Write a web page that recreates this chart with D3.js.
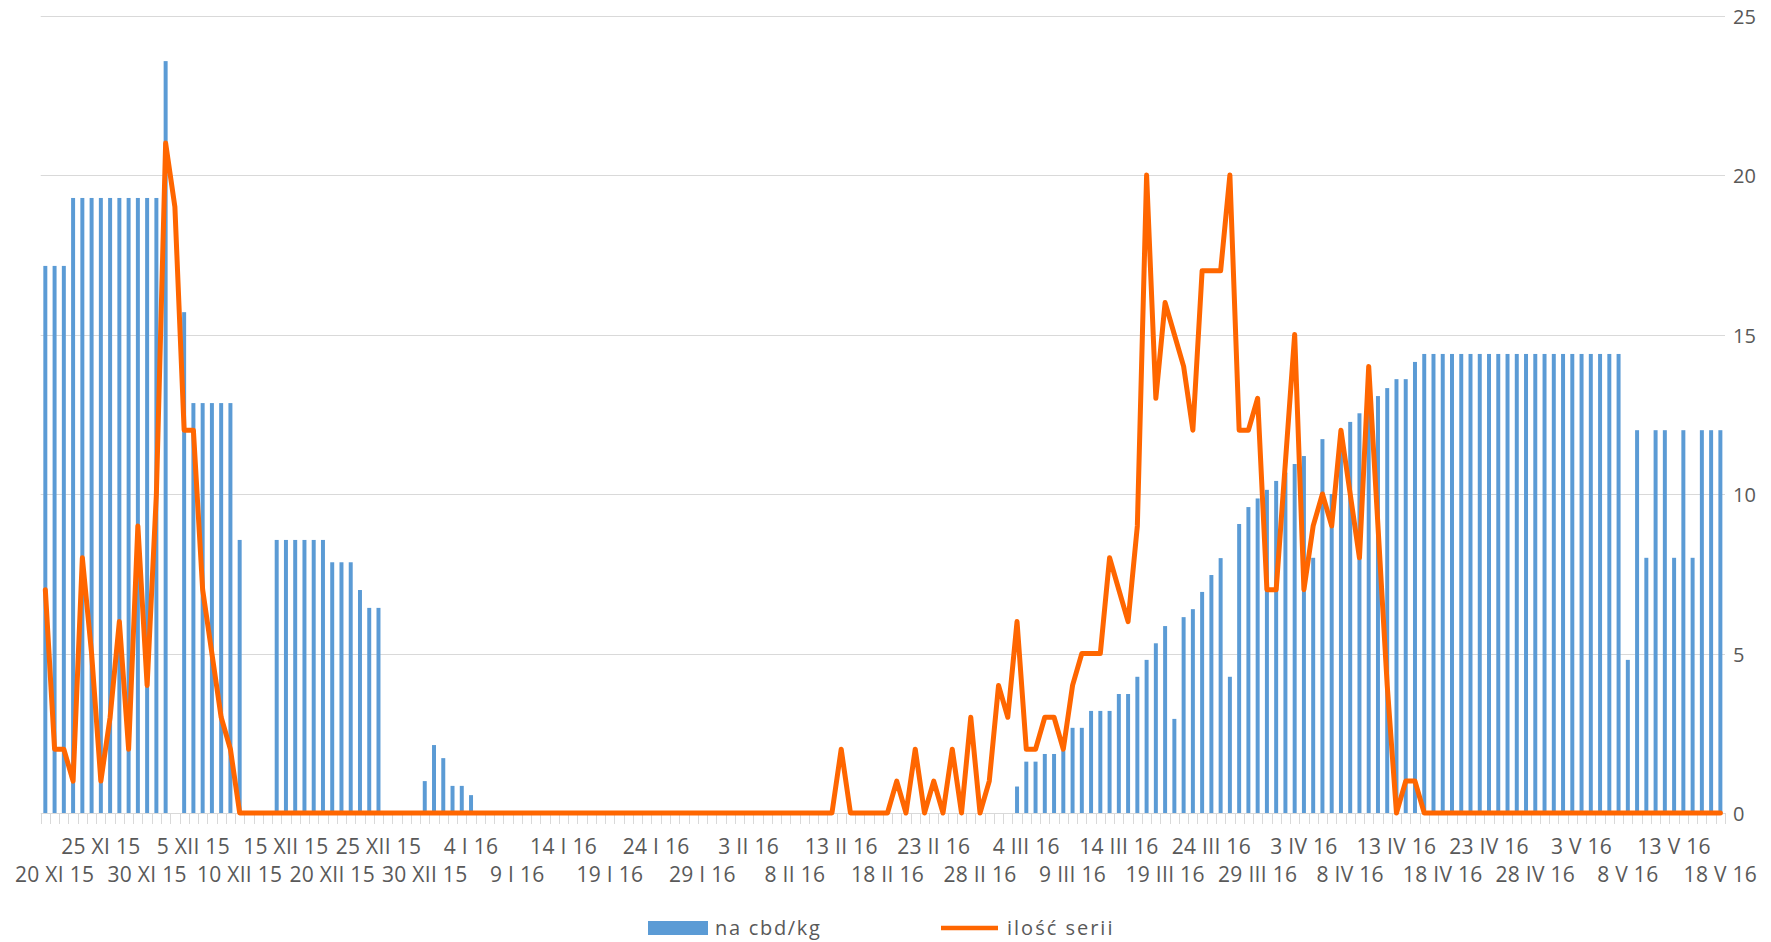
<!DOCTYPE html>
<html>
<head>
<meta charset="utf-8">
<script src="https://cdn.jsdelivr.net/npm/d3@7"></script>
<style>
   html, body { margin: 0; padding: 0; background: #fff; }
   text { font-family: "Open Sans", sans-serif; fill: #595959; }
</style>
</head>
<body>
<div id="chart"></div>
<script>

// one category per day, 19 XI 15 .. 18 V 16
const startDay = new Date(2015, 10, 19);
const endDay = new Date(2016, 4, 19);
const days = d3.timeDay.range(startDay, endDay);

// label shown on every 5th day (first on 20 XI 15)
const tickLabels = [
   "20 XI 15", "25 XI 15", "30 XI 15", "5 XII 15", "10 XII 15", "15 XII 15", "20 XII 15",
   "25 XII 15", "30 XII 15", "4 I 16", "9 I 16", "14 I 16", "19 I 16", "24 I 16", "29 I 16",
   "3 II 16", "8 II 16", "13 II 16", "18 II 16", "23 II 16", "28 II 16", "4 III 16",
   "9 III 16", "14 III 16", "19 III 16", "24 III 16", "29 III 16", "3 IV 16", "8 IV 16",
   "13 IV 16", "18 IV 16", "23 IV 16", "28 IV 16", "3 V 16", "8 V 16", "13 V 16", "18 V 16"
];

const yTicks = [0, 5, 10, 15, 20, 25];

// na cbd/kg  (null = no bar that day)
const cbdKg = [
   17.15, 17.15, 17.15, 19.28, 19.28, 19.28, 19.28, 19.28, 19.28, 19.28,
   19.28, 19.28, 19.28, 23.57, null, 15.7, 12.85, 12.85, 12.85, 12.85,
   12.85, 8.56, null, null, null, 8.56, 8.56, 8.56, 8.56, 8.56,
   8.56, 7.86, 7.86, 7.86, 6.99, 6.43, 6.43, null, null, null,
   null, 1.0, 2.13, 1.72, 0.85, 0.85, 0.56, null, null, null,
   null, null, null, null, null, null, null, null, null, null,
   null, null, null, null, null, null, null, null, null, null,
   null, null, null, null, null, null, null, null, null, null,
   null, null, null, null, null, null, null, null, null, null,
   null, null, null, null, null, null, null, null, null, null,
   null, null, null, null, null, 0.83, 1.61, 1.61, 1.85, 1.85,
   1.95, 2.67, 2.67, 3.2, 3.2, 3.2, 3.73, 3.73, 4.27, 4.8,
   5.32, 5.86, 2.95, 6.14, 6.39, 6.93, 7.46, 7.99, 4.27, 9.06,
   9.59, 9.86, 10.13, 10.41, 10.67, 10.94, 11.19, 8.0, 11.72, 10.0,
   12.0, 12.26, 12.53, 12.8, 13.07, 13.32, 13.6, 13.6, 14.14, 14.39,
   14.39, 14.39, 14.39, 14.39, 14.39, 14.39, 14.39, 14.39, 14.39, 14.39,
   14.39, 14.39, 14.39, 14.39, 14.39, 14.39, 14.39, 14.39, 14.39, 14.39,
   14.39, 4.8, 12, 8, 12, 12, 8, 12, 8, 12,
   12, 12
];

// ilość serii
const seriesCount = [
   7, 2, 2, 1, 8, 5, 1, 3, 6, 2,
   9, 4, 10, 21, 19, 12, 12, 7, 5, 3,
   2, 0, 0, 0, 0, 0, 0, 0, 0, 0,
   0, 0, 0, 0, 0, 0, 0, 0, 0, 0,
   0, 0, 0, 0, 0, 0, 0, 0, 0, 0,
   0, 0, 0, 0, 0, 0, 0, 0, 0, 0,
   0, 0, 0, 0, 0, 0, 0, 0, 0, 0,
   0, 0, 0, 0, 0, 0, 0, 0, 0, 0,
   0, 0, 0, 0, 0, 0, 2, 0, 0, 0,
   0, 0, 1, 0, 2, 0, 1, 0, 2, 0,
   3, 0, 1, 4, 3, 6, 2, 2, 3, 3,
   2, 4, 5, 5, 5, 8, 7, 6, 9, 20,
   13, 16, 15, 14, 12, 17, 17, 17, 20, 12,
   12, 13, 7, 7, 11, 15, 7, 9, 10, 9,
   12, 10, 8, 14, 9, 4, 0, 1, 1, 0,
   0, 0, 0, 0, 0, 0, 0, 0, 0, 0,
   0, 0, 0, 0, 0, 0, 0, 0, 0, 0,
   0, 0, 0, 0, 0, 0, 0, 0, 0, 0,
   0, 0
];

const legendItems = ["na cbd/kg", "ilość serii"];

const o = {
   width: 1771,
   height: 942,
   left: 40.7,
   right: 1725,
   top: 15.5,
   bottom: 813,
   barColor: "#5b9bd5",
   lineColor: "#ff6600",
   gridColor: "#d9d9d9"
};

function chart() {
   let svg = d3.select("#chart").append("svg")
      .attr("width", o.width)
      .attr("height", o.height);

   let pad = 0.57;
   let x = d3.scaleBand()
      .domain(d3.range(days.length))
      .range([o.left, o.right])
      .paddingInner(pad)
      .paddingOuter(pad / 2);

   let y = d3.scaleLinear()
      .domain([0, 25])
      .range([o.bottom, o.top]);

   let step = x.step();
   let cx = i => x(i) + x.bandwidth() / 2;

   // horizontal gridlines
   svg.append("g")
      .selectAll("line")
      .data(yTicks.filter(d => d > 0))
    .enter().append("line")
      .attr("x1", o.left)
      .attr("x2", o.right)
      .attr("y1", d => Math.round(y(d)) + 0.5)
      .attr("y2", d => Math.round(y(d)) + 0.5)
      .attr("stroke", o.gridColor)
      .attr("stroke-width", 1.2);

   // right value labels
   svg.append("g")
      .selectAll("text")
      .data(yTicks)
    .enter().append("text")
      .attr("x", 1733)
      .attr("y", d => y(d) + 1)
      .attr("dy", "0.35em")
      .style("font-size", "20px")
      .text(d => d);

   // bars
   svg.append("g")
      .selectAll("rect")
      .data(cbdKg.map((v, i) => ({ i: i, v: v })).filter(d => d.v != null))
    .enter().append("rect")
      .attr("x", d => x(d.i))
      .attr("width", x.bandwidth())
      .attr("y", d => y(d.v))
      .attr("height", d => y(0) - y(d.v))
      .attr("fill", o.barColor);

   // category axis: baseline + a tick at every day boundary
   let axis = svg.append("g");
   axis.append("line")
      .attr("x1", o.left)
      .attr("x2", o.right)
      .attr("y1", Math.round(y(0)) + 0.5)
      .attr("y2", Math.round(y(0)) + 0.5)
      .attr("stroke", o.gridColor)
      .attr("stroke-width", 1.2);

   axis.selectAll(".tick")
      .data(d3.range(days.length + 1))
    .enter().append("line")
      .attr("class", "tick")
      .attr("x1", i => Math.round(o.left + i * step) + 0.5)
      .attr("x2", i => Math.round(o.left + i * step) + 0.5)
      .attr("y1", Math.round(y(0)))
      .attr("y2", Math.round(y(0)) + 11)
      .attr("stroke", o.gridColor)
      .attr("stroke-width", 1);

   axis.selectAll(".xlabel")
      .data(tickLabels)
    .enter().append("text")
      .attr("class", "xlabel")
      .attr("x", (d, k) => cx(1 + 5 * k))
      .attr("y", (d, k) => k % 2 ? 854 : 882)
      .attr("text-anchor", "middle")
      .style("font-size", "21px")
      .style("letter-spacing", "0.3px")
      .text(d => d);

   // line
   svg.append("path")
      .datum(seriesCount)
      .attr("fill", "none")
      .attr("stroke", o.lineColor)
      .attr("stroke-width", 5)
      .attr("stroke-linejoin", "round")
      .attr("stroke-linecap", "round")
      .attr("d", d3.line()
         .x((d, i) => cx(i))
         .y(d => y(d)));

   // legend
   let legend = svg.append("g");
   legend.append("rect")
      .attr("x", 648)
      .attr("y", 921)
      .attr("width", 60)
      .attr("height", 14)
      .attr("fill", o.barColor);
   legend.append("text")
      .attr("x", 715)
      .attr("y", 935)
      .style("font-size", "20px")
      .style("letter-spacing", "1.7px")
      .text(legendItems[0]);
   legend.append("line")
      .attr("x1", 941)
      .attr("x2", 998)
      .attr("y1", 928)
      .attr("y2", 928)
      .attr("stroke", o.lineColor)
      .attr("stroke-width", 4.5);
   legend.append("text")
      .attr("x", 1007)
      .attr("y", 935)
      .style("font-size", "20px")
      .style("letter-spacing", "2px")
      .text(legendItems[1]);
}

chart();
</script>
</body>
</html>
